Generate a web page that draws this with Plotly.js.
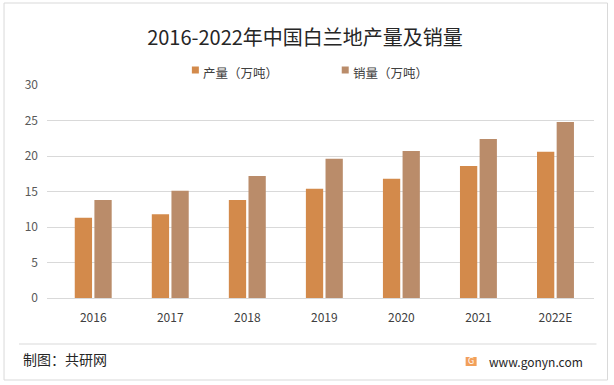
<!DOCTYPE html>
<html>
<head>
<meta charset="utf-8">
<script src="https://cdn.plot.ly/plotly-3.0.1.min.js"></script>
<style>html,body{margin:0;padding:0;background:#fff;}#chart{width:614px;height:385px;}</style>
</head>
<body>
<div id="chart"></div>
<script>
var categories = ['2016', '2017', '2018', '2019', '2020', '2021', '2022E'];
var production = [11.3, 11.8, 13.8, 15.4, 16.8, 18.6, 20.6];
var sales = [13.8, 15.1, 17.2, 19.6, 20.7, 22.4, 24.8];
var seriesNames = ['产量（万吨）', '销量（万吨）'];
var seriesColors = ['#D38A4B', '#BA8C6A'];
var titleText = '2016-2022年中国白兰地产量及销量';
var sourceText = '制图：共研网';
var siteText = 'www.gonyn.com';

var W = 614, H = 385, L = 47, R = 19.5, T = 85, B = 87;
var pw = W - L - R, ph = H - T - B;
function px(x) { return (x - L) / pw; }
function py(y) { return (H - B - y) / ph; }

var font = '"Noto Sans CJK SC", "Noto Sans", sans-serif';

var traces = [
  { type: 'bar', name: seriesNames[0], x: categories, y: production,
    marker: { color: seriesColors[0] }, hoverinfo: 'none' },
  { type: 'bar', name: seriesNames[1], x: categories, y: sales,
    marker: { color: seriesColors[1] }, hoverinfo: 'none' }
];

// custom legend (small square markers like the reference)
var legendX = [192, 342];
var legendShapes = [], legendAnn = [];
for (var i = 0; i < seriesNames.length; i++) {
  legendShapes.push({ type: 'rect', xref: 'paper', yref: 'paper',
    x0: px(legendX[i]), x1: px(legendX[i] + 7), y0: py(73.5), y1: py(66.5),
    line: { width: 0 }, fillcolor: seriesColors[i] });
  legendAnn.push({ text: seriesNames[i], xref: 'paper', yref: 'paper',
    x: px(legendX[i] + 9), y: py(72), xanchor: 'left', yanchor: 'middle', showarrow: false,
    font: { family: font, size: 12.5, color: '#404040' } });
}

var layout = {
  width: W, height: H,
  margin: { l: L, r: R, t: T, b: B, pad: 0 },
  paper_bgcolor: '#ffffff', plot_bgcolor: '#ffffff',
  font: { family: font, color: '#595959', size: 12 },
  title: { text: titleText, font: { family: font, size: 20, color: '#262626' },
           x: 305 / W, xref: 'container', xanchor: 'center', y: 1 - 38 / H, yref: 'container', yanchor: 'middle' },
  barmode: 'group', bargap: 0.49, bargroupgap: 0.12,
  showlegend: false,
  xaxis: { type: 'category', range: [-0.6, 6.5], showgrid: false, zeroline: false, showline: false,
           ticks: '', ticklabelstandoff: 11, tickfont: { family: font, size: 12, color: '#404040' }, fixedrange: true },
  yaxis: { range: [0, 30], dtick: 5, tick0: 0, showgrid: true, gridcolor: '#D9D9D9', gridwidth: 1,
           zeroline: true, zerolinecolor: '#D9D9D9', zerolinewidth: 1, showline: false, ticks: '',
           ticklabelstandoff: 8, tickfont: { family: font, size: 12, color: '#595959' }, fixedrange: true },
  shapes: [
    { type: 'rect', xref: 'paper', yref: 'paper', x0: px(4), x1: px(608), y0: py(380), y1: py(3),
      line: { color: '#D9D9D9', width: 1 }, fillcolor: 'rgba(0,0,0,0)', layer: 'below' },
    { type: 'line', xref: 'paper', yref: 'paper', x0: px(19), x1: px(597), y0: py(344), y1: py(344),
      line: { color: '#D9D9D9', width: 1 } },
    { type: 'rect', xref: 'paper', yref: 'paper', x0: px(466), x1: px(477), y0: py(366), y1: py(357),
      line: { width: 0 }, fillcolor: '#F2A05A' }
  ].concat(legendShapes),
  annotations: [
    { text: sourceText, xref: 'paper', yref: 'paper', x: px(21), y: py(359), xanchor: 'left', yanchor: 'middle',
      showarrow: false, font: { family: font, size: 14, color: '#262626' } },
    { text: siteText, xref: 'paper', yref: 'paper', x: px(487), y: py(361), xanchor: 'left', yanchor: 'middle',
      showarrow: false, font: { family: font, size: 12, color: '#262626' } },
    { text: 'G', xref: 'paper', yref: 'paper', x: px(471.5), y: py(361.5), xanchor: 'center', yanchor: 'middle',
      showarrow: false, font: { family: 'DejaVu Sans', size: 8, color: '#ffffff' } }
  ].concat(legendAnn)
};

Plotly.newPlot('chart', traces, layout, { displayModeBar: false, staticPlot: true });
</script>
</body>
</html>
